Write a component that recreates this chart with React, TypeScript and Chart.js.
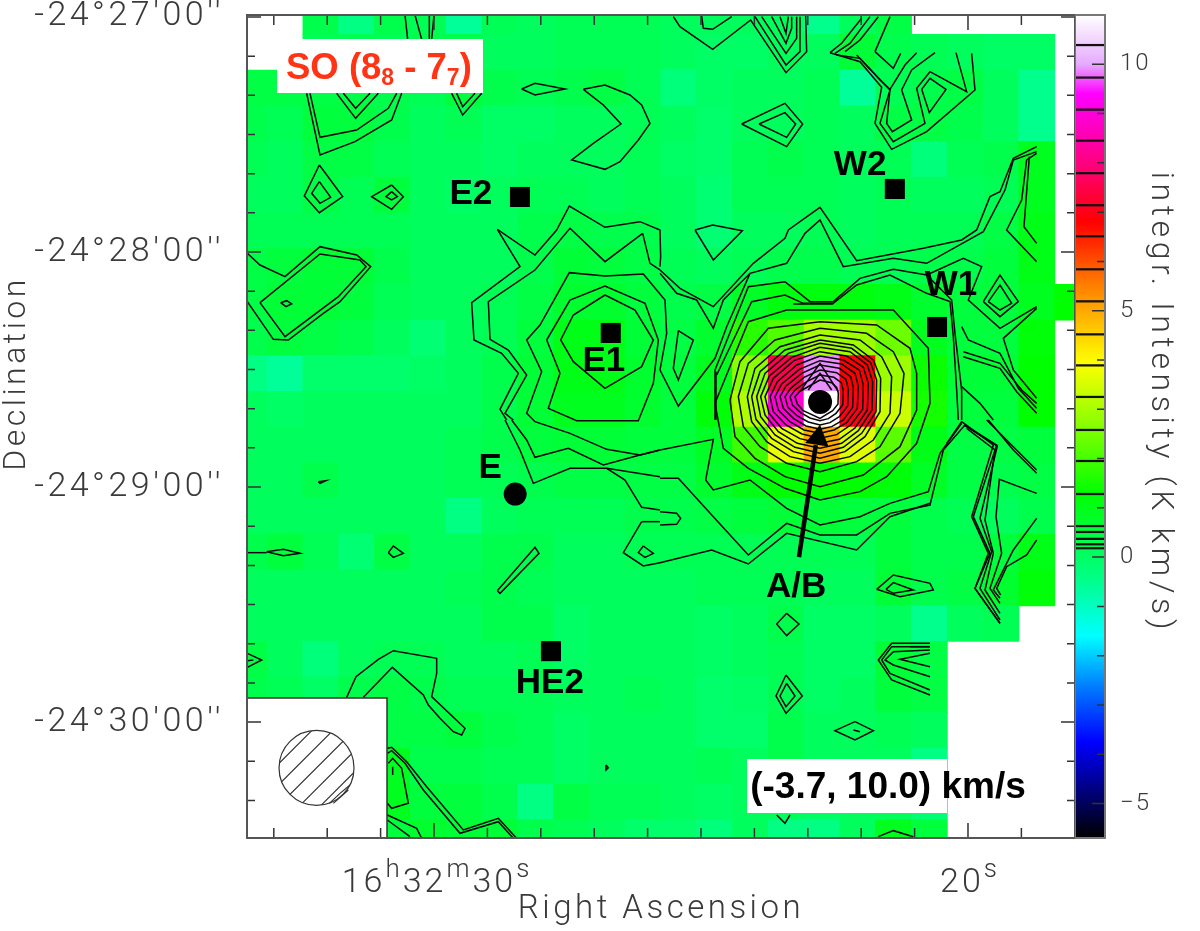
import React, { useEffect, useRef } from "react";
import { Chart, registerables } from "chart.js";

Chart.register(...registerables);

const N = null;

// Integrated intensity per map cell (K km/s), row by row from the north, column by column from the east side of the sky (left of the map).
const intensityRows: (number | null)[][] = [
  [N, N, 0.3, -0.4, 0.3, 0.2, -0.6, 0.2, 0.1, 0.2, 0.2, 0.2, 0.1, 0.1, 0.1, 0.1, -0.5, 0.1, 0.4, N, N, N, N, N],
  [N, N, 0.2, 0.2, 0.2, 0.3, 0.3, 0.1, 0.1, 0.2, 0.2, 0.2, 0.1, 0.0, 0.0, 0.1, 0.1, 0.6, 0.3, 0.2, 0.1, 0.0, 0.0, N],
  [0.4, 0.4, 0.4, 0.4, 0.3, 0.2, 0.5, 0.3, 0.2, 0.3, 0.4, 0.2, -0.3, 0.0, 0.1, 0.1, 0.2, -0.6, 0.2, 0.3, 0.4, 0.1, -0.5, N],
  [0.3, 0.2, 0.5, 0.5, 0.3, 0.1, 0.2, 0.0, 0.0, 0.1, 0.1, 0.2, 0.1, -0.1, 0.1, 0.1, 0.2, 0.1, 0.4, 0.4, 0.3, 0.1, -0.5, N],
  [0.2, 0.1, 0.4, 0.4, 0.2, 0.1, 0.1, 0.0, 0.1, 0.1, 0.1, 0.2, 0.0, -0.1, 0.2, 0.3, 0.2, 0.1, 0.2, -0.3, 0.2, 0.3, 0.9, N],
  [0.1, 0.1, 0.4, 0.2, 0.5, 0.1, 0.0, 0.1, 0.2, 0.2, 0.1, 0.2, 0.1, -0.2, 0.2, 0.2, 0.2, 0.1, 0.2, 0.1, 0.1, 0.2, 0.9, N],
  [0.2, 0.2, 0.2, 0.2, 0.2, 0.1, 0.1, 0.1, 0.3, 0.4, 0.3, 0.3, 0.1, -0.2, 0.1, 0.1, 0.2, 0.1, 0.2, 0.2, 0.2, 0.4, 1.0, N],
  [0.4, 0.5, 0.6, 0.6, 0.3, 0.1, 0.1, 0.1, 0.3, 0.6, 0.5, 0.4, 0.2, 0.1, 0.2, 0.3, 0.3, 0.2, 0.2, 0.3, 0.3, 0.5, 1.0, N],
  [0.4, 0.6, 0.6, 0.5, 0.2, 0.1, 0.1, 0.2, 0.4, 0.7, 0.7, 0.5, 0.3, 0.4, 0.8, 1.1, 1.1, 1.1, 1.0, 0.7, 0.5, 0.5, 0.9, 1.3],
  [0.3, 0.5, 0.4, 0.3, 0.1, -0.2, 0.1, 0.2, 0.5, 1.0, 1.0, 0.6, 0.4, 0.7, 1.7, 2.1, 3.0, 2.9, 2.4, 0.9, 0.5, 0.5, 1.2, N],
  [-0.4, -0.6, -0.1, -0.1, -0.1, 0.0, 0.1, 0.3, 0.6, 1.0, 1.0, 0.7, 0.5, 0.9, 2.7, 7.5, 9.9, 6.8, 2.9, 1.4, 0.6, 0.6, 1.3, N],
  [0.1, 0.0, 0.1, 0.1, 0.1, 0.1, 0.1, 0.3, 0.6, 0.9, 0.9, 0.7, 0.5, 1.2, 3.1, 8.9, 11, 7.0, 3.4, 1.5, 0.5, 0.5, 1.3, N],
  [0.1, 0.1, 0.1, 0.1, 0.1, 0.1, 0.2, 0.3, 0.5, 0.6, 0.6, 0.5, 0.5, 0.8, 1.9, 3.7, 5.0, 3.6, 2.2, 1.0, 0.4, 0.4, 0.5, N],
  [0.1, 0.1, 0.3, 0.1, 0.1, 0.1, 0.2, 0.2, 0.3, 0.4, 0.4, 0.4, 0.4, 0.7, 1.0, 1.3, 1.3, 1.3, 1.2, 0.8, 0.4, 0.3, 0.4, N],
  [0.1, 0.1, 0.1, 0.1, 0.1, 0.1, -0.4, 0.1, 0.2, 0.2, 0.2, 0.3, 0.3, 0.4, 0.5, 0.6, 0.6, 0.5, 0.5, 0.3, 0.2, 0.1, 0.3, N],
  [0.3, 0.5, 0.2, -0.2, 0.4, 0.1, 0.1, 0.3, 0.3, 0.1, 0.1, 0.2, 0.2, 0.2, 0.2, 0.2, 0.2, 0.2, 0.5, 0.3, 0.3, 0.5, 1.0, N],
  [0.1, 0.1, 0.1, 0.1, 0.1, 0.1, 0.2, 0.3, 0.2, 0.1, 0.1, 0.1, 0.1, 0.2, 0.2, 0.2, 0.1, 0.1, 0.6, 0.3, 0.4, 0.7, 1.2, N],
  [0.1, 0.1, 0.1, 0.1, 0.1, 0.1, 0.1, 0.3, 0.3, 0.0, 0.1, 0.1, 0.1, 0.0, 0.1, 0.3, 0.0, 0.0, 0.1, -0.5, 0.1, 0.2, N, N],
  [0.4, 0.1, -0.3, 0.1, 0.2, 0.2, 0.1, 0.1, 0.2, 0.0, 0.1, 0.1, 0.1, 0.0, 0.1, 0.2, 0.0, 0.0, 0.6, 0.4, N, N, N, N],
  [0.3, 0.2, 0.0, 0.3, 0.4, 0.3, 0.2, 0.2, 0.2, 0.1, 0.1, 0.2, 0.1, -0.1, 0.0, 0.2, 0.0, 0.1, 0.5, 0.4, N, N, N, N],
  [0.2, 0.2, 0.3, 0.3, 0.4, 0.4, 0.5, 0.3, 0.2, 0.0, 0.1, 0.1, 0.1, -0.1, -0.1, 0.3, 0.1, 0.1, 0.2, 0.1, N, N, N, N],
  [0.3, 0.3, 0.3, 0.3, 0.9, 0.3, 0.3, 0.2, 0.2, 0.0, 0.1, 0.1, 0.1, 0.2, 0.1, 0.3, 0.1, 0.1, 0.1, -0.4, N, N, N, N],
  [0.3, 0.3, 0.3, 0.4, 0.9, 0.5, 0.5, 0.3, -0.4, 0.4, 0.2, 0.2, 0.1, 0.0, 0.1, 0.1, 0.0, 0.1, 0.1, -0.2, N, N, N, N],
  [0.3, 0.3, 0.3, 0.4, 0.5, 0.7, 0.6, 0.6, 0.3, 0.2, 0.1, -0.1, -0.1, -0.3, 0.1, -0.4, -0.4, 0.1, 0.9, 0.5, N, N, N, N],
];

// Map grid in sky coordinates: RA seconds past 16h32m, Dec arcsec relative to -24deg27'00"
const firstCellRA = 33.46;
const cellStepRA = 0.6704;
const firstCellDec = 0.09;
const cellStepDec = 9.114;

const raMin = 17.996;
const raMax = 33.502;
const decMin = -209.6;
const decMax = 0.51;

const raMinorTicks = [33, 32, 31, 30, 29, 28, 27, 26, 25, 24, 23, 22, 21, 20, 19];
const raMajorTicks = [30, 20];
const decMinorTicks = [0, -10, -20, -30, -40, -50, -60, -70, -80, -90, -100, -110, -120, -130, -140, -150, -160, -170, -180, -190, -200];
const decMajorTicks = [0, -60, -120, -180];
const decTickLabels = ["-24\u00b027'00''", "-24\u00b028'00''", "-24\u00b029'00''", "-24\u00b030'00''"];

const cbarMin = -5.7;
const cbarMax = 11;
const cbarLabelled = [10, 5, 0, -5];
const cbarLabels = ["10", "5", "0", "\u22125"];
const cbarMinor = [9, 8, 7, 6, 4, 3, 2, 1, -1, -2, -3, -4];
const contourLevels = [10.39, 9.73, 9.08, 8.45, 7.79, 7.14, 6.51, 5.84, 5.19, 4.52, 3.89, 3.25, 2.58, 1.95, 1.28, 0.63, 0.51, 0.37, 0.26, 0.18];

const colorStops: [number, number, number, number][] = [
  [-5.7, 0, 0, 0],
  [-3.75, 0, 0, 255],
  [-2.6, 0, 128, 255],
  [-1.6, 0, 255, 255],
  [-0.37, 0, 255, 128],
  [1.3, 0, 255, 0],
  [2.6, 128, 255, 0],
  [3.95, 255, 255, 0],
  [5.5, 255, 128, 0],
  [6.8, 255, 0, 0],
  [8, 255, 0, 128],
  [9.4, 255, 0, 255],
  [10, 230, 170, 255],
  [11, 255, 255, 255],
];

// Sources: RA seconds, Dec arcsec
const squareSources = [
  { x: 28.39, y: -45.95 },
  { x: 21.37, y: -43.9 },
  { x: 26.69, y: -80.67 },
  { x: 20.58, y: -79.14 },
  { x: 27.81, y: -161.9 },
];
const circleSources = [
  { x: 28.48, y: -121.8, r: 11.5 },
  { x: 22.77, y: -98.3, r: 12 },
];
const sourceNames = [
  { t: "E2", x: 29.31, y: -45.4 },
  { t: "W2", x: 22.02, y: -37.8 },
  { t: "W1", x: 20.32, y: -68.4 },
  { t: "E1", x: 26.82, y: -87.8 },
  { t: "E", x: 28.95, y: -115.1 },
  { t: "HE2", x: 27.83, y: -170 },
  { t: "A/B", x: 23.22, y: -145.5 },
];
const arrowShaft = [
  { x: 23.165, y: -137.9 },
  { x: 22.85, y: -109.3 },
];
const arrowHead = [{ x: 22.81, y: -107.5 }];

const beamCentre = { x: 32.2, y: -191.7 };
const beamRadiusArcsec = 9.57;

// Contours traced on four tracing sheets of the map (each sheet: flat x,y lists in sheet units)
const contoursNW: number[][] = [
  [495, 45, 503, 118], [525, 45, 545, 118], [568, 45, 568, 118], [582, 45, 575, 118],
  [200, 280, 240, 465, 345, 425, 455, 360, 485, 280],
  [210, 280, 240, 412, 350, 390, 445, 325, 470, 280],
  [290, 280, 347, 355, 415, 280], [310, 280, 347, 325, 390, 280],
  [635, 280, 668, 345, 725, 280], [650, 280, 668, 320, 705, 280],
  [845, 267, 885, 250, 975, 267, 885, 285, 845, 267],
  [1030, 268, 1095, 255, 1170, 285, 1205, 315, 1230, 370, 1195, 420, 1140, 485, 1095, 508, 995, 480, 1060, 430, 1143, 372, 1090, 315, 1030, 268],
  [238, 495, 308, 590, 238, 638, 193, 588, 238, 495], [238, 545, 272, 592, 240, 610, 215, 580, 238, 545],
  [455, 555, 490, 590, 455, 628, 395, 590, 455, 555], [455, 575, 472, 590, 455, 600, 438, 590, 455, 575],
  [22, 760, 60, 795, 135, 830, 240, 740, 350, 765, 392, 800, 300, 905, 250, 940, 145, 1020, 100, 1018, 22, 905],
  [60, 908, 240, 762, 360, 780, 378, 800, 295, 890, 135, 1010, 60, 908],
  [122, 908, 140, 902, 155, 912, 138, 920, 122, 908],
  [772, 688, 885, 765, 950, 690, 988, 618, 1095, 682, 1200, 665, 1260, 690, 1262, 770, 1260, 800],
  [772, 688, 840, 800, 695, 908, 702, 1020, 785, 1060, 835, 1120, 780, 1228, 800, 1260],
  [1208, 700, 1095, 785, 990, 685, 885, 810, 745, 905, 750, 1018, 805, 1050, 860, 1125, 795, 1240, 820, 1260],
  [1208, 700, 1230, 790, 1260, 810],
  [1260, 1110, 1280, 1000, 1275, 900, 1210, 822, 1095, 828, 988, 818, 900, 975, 860, 1020, 905, 1115, 860, 1240, 885, 1265, 990, 1300, 1100, 1348, 1200, 1365, 1260, 1350],
  [920, 1020, 990, 900, 1095, 858, 1215, 910, 1255, 1020, 1240, 1150, 1195, 1262, 1010, 1262, 925, 1225, 960, 1120, 920, 1020],
  [1095, 885, 1185, 930, 1240, 1020, 1205, 1100, 1095, 1165, 1000, 1085, 962, 1020, 1000, 945, 1095, 885],
];

const contoursNE: number[][] = [
  [40, 50, 60, 80, 158, 148, 272, 60, 378, 218, 440, 155, 437, 48],
  [125, 48, 130, 85, 158, 88, 215, 50],
  [285, 50, 378, 195, 420, 155, 420, 50], [305, 50, 378, 160, 410, 115, 410, 50],
  [335, 50, 378, 130, 395, 85, 395, 50], [360, 50, 378, 100, 385, 50],
  [245, 372, 375, 310, 428, 372, 380, 440, 245, 372], [297, 372, 375, 338, 407, 372, 380, 412, 297, 372],
  [105, 690, 158, 675, 247, 692, 160, 780, 105, 690],
  [510, 158, 545, 130, 605, 55], [525, 160, 570, 130, 630, 50], [555, 155, 600, 120, 655, 50],
  [510, 158, 600, 185, 665, 262, 645, 370, 695, 448, 800, 395, 945, 270, 935, 160],
  [530, 165, 600, 175, 690, 270, 660, 370, 700, 425, 795, 370, 770, 265, 810, 215, 920, 275, 888, 158],
  [590, 165, 660, 240, 690, 268, 680, 370, 697, 395, 755, 360, 725, 270, 755, 210, 825, 158],
  [690, 268, 735, 195, 770, 158],
  [645, 155, 700, 205, 722, 160], [645, 155, 690, 50],
  [785, 268, 810, 235, 858, 268, 808, 338, 785, 268],
  [1130, 440, 1060, 475, 1020, 575, 990, 590, 950, 690, 905, 720, 790, 745, 590, 782, 480, 622, 385, 690, 375, 715, 280, 790, 160, 920, 60, 865, 0, 810],
  [1130, 455, 1060, 480, 1035, 570, 970, 695, 800, 790, 700, 775, 550, 800, 480, 660, 435, 700, 380, 790, 270, 820, 190, 900, 160, 985, 110, 900, 50, 880, 0, 820],
  [1130, 460, 1100, 480, 1085, 600, 1040, 690, 1130, 785], [1108, 470, 1092, 680, 1130, 730],
  [800, 825, 910, 775, 965, 800, 925, 900, 1020, 985, 1130, 920],
  [165, 1110, 265, 860, 375, 845, 450, 905, 520, 905, 600, 835, 700, 808, 800, 825, 875, 900, 885, 1000, 905, 1170, 905, 1260],
  [170, 1125, 275, 905, 375, 885, 430, 910, 520, 910, 590, 855, 690, 825, 800, 880, 870, 905, 880, 1010, 890, 1170, 895, 1260],
  [165, 1110, 165, 1260], [168, 1115, 168, 1260],
  [400, 912, 520, 912],
  [55, 992, 100, 1020, 55, 1140, 40, 1105, 55, 992],
  [0, 1110, 55, 1218, 165, 1075, 200, 980, 270, 820],
  [970, 905, 1020, 825, 1075, 905, 1020, 950, 970, 905], [985, 905, 1020, 855, 1055, 910, 1020, 930, 985, 905],
  [905, 980, 925, 1020, 1020, 1060, 1075, 1165, 1130, 1225],
  [910, 1055, 1020, 1090, 1085, 1170, 1130, 1210], [910, 1070, 1020, 1105, 1070, 1175, 1130, 1240],
  [1130, 925, 1030, 1015, 1060, 1110, 1130, 1195],
  [905, 1160, 960, 1210, 1000, 1260],
  // concentric contours round A/B
  [480, 930, 700, 930, 805, 1045, 810, 1210, 770, 1330, 680, 1430, 600, 1475, 480, 1500, 375, 1465, 265, 1405, 190, 1345, 165, 1210, 265, 965, 380, 930, 480, 930],
  [480, 965, 650, 975, 750, 1045, 770, 1120, 770, 1230, 720, 1340, 610, 1425, 480, 1460, 375, 1430, 285, 1375, 225, 1310, 210, 1200, 240, 1085, 325, 985, 480, 965],
  [480, 985, 620, 1000, 700, 1055, 732, 1120, 720, 1240, 660, 1340, 590, 1385, 480, 1415, 380, 1390, 300, 1340, 250, 1280, 235, 1190, 265, 1090, 345, 1020, 480, 985],
  [480, 1005, 600, 1020, 665, 1070, 695, 1130, 690, 1240, 640, 1320, 570, 1370, 480, 1390, 390, 1370, 320, 1325, 275, 1265, 262, 1190, 285, 1105, 360, 1040, 480, 1005],
  [480, 1020, 580, 1035, 640, 1080, 662, 1135, 660, 1235, 615, 1310, 555, 1355, 480, 1375, 400, 1355, 335, 1315, 288, 1258, 275, 1190, 300, 1115, 375, 1050, 480, 1020],
  [480, 1030, 575, 1045, 632, 1088, 650, 1140, 648, 1235, 605, 1300, 550, 1342, 480, 1360, 405, 1342, 345, 1305, 302, 1250, 290, 1190, 315, 1120, 385, 1060, 480, 1030],
  [480, 1042, 570, 1055, 622, 1095, 638, 1145, 636, 1230, 595, 1292, 545, 1330, 480, 1345, 412, 1330, 355, 1295, 315, 1245, 302, 1190, 328, 1128, 395, 1072, 480, 1042],
  [480, 1055, 560, 1068, 610, 1102, 625, 1150, 622, 1230, 585, 1284, 538, 1318, 480, 1330, 420, 1316, 365, 1285, 327, 1240, 315, 1190, 340, 1135, 402, 1082, 480, 1055],
  [480, 1068, 550, 1080, 598, 1110, 610, 1155, 608, 1228, 572, 1275, 530, 1304, 480, 1315, 426, 1302, 378, 1275, 340, 1235, 330, 1190, 352, 1145, 410, 1095, 480, 1068],
  [480, 1082, 545, 1092, 585, 1120, 595, 1158, 592, 1225, 560, 1268, 522, 1290, 480, 1300, 432, 1290, 390, 1265, 355, 1230, 345, 1190, 365, 1152, 418, 1108, 480, 1082],
  [480, 1095, 538, 1105, 572, 1130, 580, 1162, 578, 1222, 550, 1260, 515, 1280, 480, 1288, 438, 1278, 400, 1255, 370, 1225, 360, 1190, 378, 1158, 425, 1120, 480, 1095],
  [480, 1110, 530, 1118, 558, 1138, 565, 1168, 563, 1218, 538, 1250, 510, 1268, 480, 1275, 445, 1266, 412, 1248, 384, 1222, 375, 1190, 392, 1165, 432, 1132, 480, 1110],
  [480, 1125, 522, 1132, 544, 1148, 550, 1172, 548, 1215, 528, 1240, 505, 1256, 480, 1262, 450, 1254, 422, 1238, 398, 1216, 390, 1190, 405, 1170, 440, 1145, 480, 1125],
  [480, 1140, 515, 1148, 530, 1162, 535, 1180, 534, 1212, 518, 1232, 480, 1255, 430, 1232, 412, 1212, 405, 1190, 418, 1175, 448, 1158, 480, 1140],
  [445, 1170, 480, 1120, 515, 1170], [420, 1175, 480, 1090, 535, 1175],
];

const contoursSW: number[][] = [
  [235, 185, 258, 182, 240, 190, 235, 185],
  [22, 398, 80, 398], [80, 395, 130, 388, 180, 400, 130, 407, 80, 395],
  [445, 398, 460, 378, 490, 400, 460, 412, 445, 398],
  [772, 512, 885, 382, 897, 400, 780, 520, 772, 512],
  [22, 700, 65, 720, 22, 742], [22, 722, 40, 720],
  [320, 832, 348, 770, 415, 718, 460, 692, 590, 715, 590, 760, 575, 830, 675, 925, 665, 945, 640, 935, 600, 895, 565, 855, 550, 825, 457, 742, 370, 832],
  [442, 985, 455, 982, 500, 1025, 560, 1100, 670, 1230, 775, 1195, 830, 1255],
  [442, 1000, 455, 992, 495, 1030, 550, 1110, 660, 1240, 775, 1205, 820, 1255],
  [445, 1030, 458, 1015, 485, 1045, 505, 1150, 455, 1165, 442, 1150],
  [458, 1040, 458, 1065],
  [442, 1185, 530, 1225, 545, 1255], [442, 1200, 510, 1250],
  [815, 0, 860, 60, 885, 112, 985, 85, 1090, 135, 1200, 105, 1260, 90],
  [795, 0, 840, 90, 880, 190, 990, 145, 1100, 145, 1155, 180, 1205, 262, 1260, 270],
  [1260, 170, 1100, 145],
  [1205, 305, 1260, 305], [1205, 305, 1150, 398, 1210, 438, 1260, 428],
  [1210, 378, 1240, 400, 1215, 412, 1195, 398, 1210, 378],
  [1098, 1035, 1105, 1043, 1098, 1050, 1098, 1035],
];

const contoursSE: number[][] = [
  [0, 90, 160, 58, 137, 180, 160, 210, 270, 180, 380, 265, 480, 315, 600, 290, 690, 250, 805, 215, 840, 100, 905, 10],
  [0, 175, 55, 175, 160, 290, 265, 405, 380, 310, 480, 345, 590, 345, 690, 280, 810, 255, 850, 90, 915, 15, 1010, 75, 940, 290, 990, 400, 945, 505, 1020, 610],
  [0, 428, 155, 390, 265, 432, 380, 340, 590, 390, 690, 290, 810, 250],
  [860, 70, 905, 5, 1000, 75, 935, 290, 985, 400, 945, 505, 1020, 610],
  [912, 15, 1012, 78, 960, 295, 995, 395, 960, 505, 1020, 600],
  [920, 25, 1005, 90, 975, 300, 1000, 400, 975, 510, 1020, 580],
  [1130, 160, 1060, 90, 985, 0], [1130, 150, 1060, 80, 980, 0],
  [1130, 220, 1018, 178, 1008, 290, 1025, 400, 990, 505, 1020, 550],
  [1130, 295, 1060, 390, 1000, 510, 1020, 535],
  [1130, 360, 1100, 405, 1040, 440, 1010, 505, 1022, 525],
  [650, 508, 700, 465, 810, 490, 820, 510, 720, 530, 650, 508],
  [678, 508, 700, 488, 760, 510, 700, 520, 678, 508],
  [380, 580, 417, 612, 380, 647, 350, 612, 380, 580],
  [378, 765, 427, 828, 378, 880, 348, 828, 378, 765],
  [380, 790, 405, 828, 378, 860, 360, 828, 380, 790],
  [585, 905, 640, 932, 585, 960, 525, 932, 585, 905],
  [580, 930, 600, 935],
  [810, 825, 695, 780, 655, 720, 695, 670, 810, 670],
  [810, 810, 690, 760, 665, 720, 695, 680, 810, 680],
  [810, 770, 700, 735, 675, 720, 700, 695, 810, 690],
  [810, 740, 720, 718, 810, 700],
  [750, 680, 810, 680],
  [350, 1185, 375, 1210, 390, 1185],
  [655, 1250, 700, 1232, 760, 1250],
  [0, 275, 50, 280, 62, 295, 50, 313, 0, 315],
];

const beamTraces: number[][] = [
  [268, 1150, 300, 1120, 330, 1095],
  [280, 1150, 325, 1110],
];

// Tracing-sheet to sky conversion
const sheetToSky = (ox: number, oy: number, zx: number, zy: number) => ({
  x: 20 + (968 - (ox + zx / 3)) / 53.4,
  y: -(oy + zy / 3 - 17) / 3.917,
});

const traceToPoints = (flat: number[], ox: number, oy: number) => {
  const pts: { x: number; y: number }[] = [];
  for (let i = 0; i + 1 < flat.length; i += 2) pts.push(sheetToSky(ox, oy, flat[i], flat[i + 1]));
  return pts;
};

const valueToRgb = (v: number) => {
  const s = colorStops;
  if (v <= s[0][0]) return `rgb(${s[0][1]},${s[0][2]},${s[0][3]})`;
  for (let i = 1; i < s.length; i++) {
    if (v <= s[i][0]) {
      const f = (v - s[i - 1][0]) / (s[i][0] - s[i - 1][0]);
      const c = [1, 2, 3].map((k) => Math.round(s[i - 1][k] + f * (s[i][k] - s[i - 1][k])));
      return `rgb(${c[0]},${c[1]},${c[2]})`;
    }
  }
  return "rgb(255,255,255)";
};

const LIGHT = "Roboto";
const BOLD = "'Liberation Sans'";
const INK = "#3a3a3a";

const mapFurniture = {
  id: "mapFurniture",
  beforeDraw(chart: any) {
    chart.ctx.letterSpacing = "3.5px";
  },
  afterDatasetsDraw(chart: any) {
    const { ctx, chartArea: a, scales } = chart;
    const X = (v: number) => scales.x.getPixelForValue(v);
    const Y = (v: number) => scales.y.getPixelForValue(v);
    ctx.save();
    ctx.letterSpacing = "0px";

    // White label boxes
    ctx.fillStyle = "#fff";
    ctx.fillRect(277, 39, 206, 54);
    ctx.fillRect(747, 759, 200, 54);
    ctx.fillRect(a.left, 698, 140, a.bottom - 698);
    ctx.strokeStyle = "#333";
    ctx.lineWidth = 1.5;
    ctx.beginPath();
    ctx.moveTo(a.left, 698);
    ctx.lineTo(387, 698);
    ctx.lineTo(387, a.bottom);
    ctx.stroke();

    // Beam
    const bx = X(beamCentre.x);
    const by = Y(beamCentre.y);
    const br = Math.abs(Y(beamRadiusArcsec) - Y(0));
    ctx.lineWidth = 1.2;
    ctx.strokeStyle = "#333";
    ctx.beginPath();
    ctx.arc(bx, by, br, 0, Math.PI * 2);
    ctx.stroke();
    ctx.save();
    ctx.beginPath();
    ctx.arc(bx, by, br, 0, Math.PI * 2);
    ctx.clip();
    ctx.beginPath();
    for (let d = -3; d <= 3; d++) {
      const o = d * 21;
      ctx.moveTo(bx - br + o, by + br);
      ctx.lineTo(bx + br + o, by - br);
    }
    ctx.stroke();
    ctx.restore();
    beamTraces.forEach((t) => {
      const p = traceToPoints(t, 240, 420);
      ctx.beginPath();
      p.forEach((q, i) => (i ? ctx.lineTo(X(q.x), Y(q.y)) : ctx.moveTo(X(q.x), Y(q.y))));
      ctx.stroke();
    });

    // Frame ticks
    ctx.strokeStyle = "#333";
    ctx.lineWidth = 1.5;
    ctx.beginPath();
    raMinorTicks.forEach((t) => {
      const px = X(t);
      const len = raMajorTicks.includes(t) ? 15 : 10;
      ctx.moveTo(px, a.bottom);
      ctx.lineTo(px, a.bottom - len);
      ctx.moveTo(px, a.top);
      ctx.lineTo(px, a.top + len);
    });
    decMinorTicks.forEach((t) => {
      const py = Y(t);
      const len = decMajorTicks.includes(t) ? 14 : 8;
      ctx.moveTo(a.left, py);
      ctx.lineTo(a.left + len, py);
      ctx.moveTo(a.right, py);
      ctx.lineTo(a.right - len, py);
    });
    ctx.stroke();
    ctx.strokeStyle = "#555";
    ctx.lineWidth = 2;
    ctx.strokeRect(a.left, a.top, a.right - a.left, a.bottom - a.top);

    // Source names
    ctx.fillStyle = "#000";
    ctx.textAlign = "center";
    ctx.textBaseline = "middle";
    ctx.font = `bold 35px ${BOLD}`;
    sourceNames.forEach((s) => ctx.fillText(s.t, X(s.x), Y(s.y)));

    // Velocity range
    ctx.font = `bold 37px ${BOLD}`;
    ctx.fillText("(-3.7, 10.0) km/s", 888, 788);

    // Line name with subscripts
    const runs: [string, boolean][] = [["SO (8", false], ["8", true], [" - 7", false], ["7", true], [")", false]];
    ctx.fillStyle = "#ff3414";
    ctx.textAlign = "left";
    ctx.textBaseline = "alphabetic";
    let cx = 286;
    runs.forEach(([t, sub]) => {
      ctx.font = `bold ${sub ? 23 : 36.5}px ${BOLD}`;
      ctx.fillText(t, cx, sub ? 85 : 79);
      cx += ctx.measureText(t).width;
    });

    // Declination title, centred on its own position along the frame
    ctx.fillStyle = INK;
    ctx.letterSpacing = "3.5px";
    ctx.save();
    ctx.translate(17, Y(-91));
    ctx.rotate(-Math.PI / 2);
    ctx.textAlign = "center";
    ctx.textBaseline = "middle";
    ctx.font = `300 32px ${LIGHT}`;
    ctx.fillText("Declination", 0, 0);
    ctx.restore();

    // RA labels with raised unit letters
    ctx.letterSpacing = "3px";
    const drawRA = (parts: [string, boolean][], centre: number) => {
      let w = 0;
      parts.forEach(([t, sup]) => {
        ctx.font = `300 ${sup ? 26 : 34}px ${LIGHT}`;
        w += ctx.measureText(t).width;
      });
      let px = centre - w / 2;
      parts.forEach(([t, sup]) => {
        ctx.font = `300 ${sup ? 26 : 34}px ${LIGHT}`;
        ctx.fillText(t, px, sup ? 877 : 892);
        px += ctx.measureText(t).width;
      });
    };
    drawRA([["16", false], ["h", true], ["32", false], ["m", true], ["30", false], ["s", true]], X(raMajorTicks[0]) + 3);
    drawRA([["20", false], ["s", true]], X(raMajorTicks[1]) + 2);
    ctx.restore();
  },
};

const cbarFurniture = {
  id: "cbarFurniture",
  beforeDraw(chart: any) {
    chart.ctx.letterSpacing = "2px";
  },
  afterDatasetsDraw(chart: any) {
    const { ctx, chartArea: a, scales } = chart;
    const Y = (v: number) => scales.y.getPixelForValue(v);
    ctx.save();
    ctx.strokeStyle = "#333";
    ctx.lineWidth = 1.5;
    ctx.beginPath();
    cbarLabelled.forEach((v) => {
      ctx.moveTo(a.right, Y(v));
      ctx.lineTo(a.right - 13, Y(v));
    });
    cbarMinor.forEach((v) => {
      ctx.moveTo(a.right, Y(v));
      ctx.lineTo(a.right - 8, Y(v));
    });
    ctx.stroke();
    ctx.strokeStyle = "#777";
    ctx.lineWidth = 2;
    ctx.strokeRect(a.left, a.top, a.right - a.left, a.bottom - a.top);

    ctx.fillStyle = INK;
    ctx.letterSpacing = "4.6px";
    ctx.translate(a.right + 55, Y(3.13));
    ctx.rotate(Math.PI / 2);
    ctx.textAlign = "center";
    ctx.textBaseline = "middle";
    ctx.font = `300 32px ${LIGHT}`;
    ctx.fillText("integr. Intensity (K km/s)", 0, 0);
    ctx.restore();
  },
};

export default function App() {
  const mapRef = useRef<HTMLCanvasElement>(null);
  const barRef = useRef<HTMLCanvasElement>(null);

  useEffect(() => {
    const cells: { x: number; y: number }[] = [];
    const cellColors: string[] = [];
    intensityRows.forEach((row, r) =>
      row.forEach((v, c) => {
        if (v === null) return;
        cells.push({ x: firstCellRA - c * cellStepRA, y: firstCellDec - r * cellStepDec });
        cellColors.push(valueToRgb(v));
      })
    );

    const contourSets: [number[][], number, number][] = [
      [contoursNW, 240, 0],
      [contoursNE, 660, 0],
      [contoursSW, 240, 420],
      [contoursSE, 660, 420],
    ];
    const contourDatasets: any[] = [];
    contourSets.forEach(([lines, ox, oy]) =>
      lines.forEach((l) =>
        contourDatasets.push({
          data: traceToPoints(l, ox, oy),
          showLine: true,
          borderColor: "#050505",
          borderWidth: 1.5,
          pointRadius: 0,
          tension: 0,
          order: 5,
          clip: 0,
        })
      )
    );

    const map = new Chart(mapRef.current!, {
      type: "scatter",
      data: {
        datasets: [
          {
            label: "cells",
            data: cells,
            pointStyle: "rect",
            pointRadius: 25.9,
            pointBorderWidth: 0,
            pointBackgroundColor: cellColors,
            order: 10,
            clip: 0,
          } as any,
          ...contourDatasets,
          {
            label: "square sources",
            data: squareSources,
            pointStyle: "rect",
            pointRadius: 14.2,
            pointBorderWidth: 0,
            pointBackgroundColor: "#000",
            order: 2,
            clip: 0,
          } as any,
          {
            label: "arrow",
            data: arrowShaft,
            showLine: true,
            borderColor: "#000",
            borderWidth: 4.5,
            pointRadius: 0,
            order: 2,
            clip: 0,
          } as any,
          {
            label: "arrow head",
            data: arrowHead,
            pointStyle: "triangle",
            pointRadius: 13.5,
            rotation: 8.8,
            pointBorderWidth: 0,
            pointBackgroundColor: "#000",
            order: 2,
            clip: 0,
          } as any,
          {
            label: "circle sources",
            data: circleSources,
            pointStyle: "circle",
            pointRadius: circleSources.map((s) => s.r),
            pointBorderWidth: 0,
            pointBackgroundColor: "#000",
            order: 1,
            clip: 0,
          } as any,
        ],
      },
      options: {
        animation: false,
        responsive: false,
        events: [],
        layout: { autoPadding: false, padding: { left: 0, top: 15, right: 125, bottom: 0 } },
        plugins: { legend: { display: false }, tooltip: { enabled: false } },
        scales: {
          x: {
            type: "linear",
            reverse: true,
            min: raMin,
            max: raMax,
            grid: { display: false, drawTicks: false },
            border: { display: false },
            ticks: { display: false },
            title: {
              display: true,
              text: "Right Ascension",
              color: INK,
              font: { family: LIGHT, size: 33, weight: "300", lineHeight: 1 },
              padding: { top: 0, bottom: 5 },
            },
            afterFit(s: any) {
              s.height = 93;
              s.paddingLeft = 0;
              s.paddingRight = 0;
            },
          },
          y: {
            type: "linear",
            min: decMin,
            max: decMax,
            grid: { display: false, drawTicks: false },
            border: { display: false },
            afterBuildTicks(s: any) {
              s.ticks = decMajorTicks.map((value) => ({ value }));
            },
            ticks: {
              autoSkip: false,
              padding: 23,
              color: INK,
              font: { family: LIGHT, size: 34, weight: "300", lineHeight: 0.5 },
              callback: (v: any) => decTickLabels[decMajorTicks.indexOf(Number(v))] ?? "",
            },
            afterFit(s: any) {
              s.width = 247;
              s.paddingTop = 0;
              s.paddingBottom = 0;
            },
          },
        },
      } as any,
      plugins: [mapFurniture],
    });

    const colorBar = new Chart(barRef.current!, {
      type: "bar",
      data: {
        labels: ["scale"],
        datasets: [
          {
            label: "colour scale",
            data: [[cbarMin, cbarMax]],
            order: 2,
            borderWidth: 0,
            backgroundColor: (c: any) => {
              const { chartArea, scales, ctx } = c.chart;
              if (!chartArea) return "#000";
              const y0 = scales.y.getPixelForValue(cbarMin);
              const y1 = scales.y.getPixelForValue(cbarMax);
              const g = ctx.createLinearGradient(0, y0, 0, y1);
              colorStops.forEach((s) => g.addColorStop((s[0] - cbarMin) / (cbarMax - cbarMin), `rgb(${s[1]},${s[2]},${s[3]})`));
              return g;
            },
          } as any,
          ...contourLevels.map((l) => ({
            label: `level ${l}`,
            data: [[l - 0.016, l + 0.016]],
            order: 1,
            borderWidth: 0,
            backgroundColor: "#111",
          })),
        ],
      },
      options: {
        animation: false,
        responsive: false,
        events: [],
        layout: { autoPadding: false, padding: { left: 0, top: 15, right: 0, bottom: 93 } },
        datasets: { bar: { grouped: false, barPercentage: 1, categoryPercentage: 1 } },
        plugins: { legend: { display: false }, tooltip: { enabled: false } },
        scales: {
          x: { display: false },
          y: {
            position: "right",
            min: cbarMin,
            max: cbarMax,
            grid: { display: false, drawTicks: false },
            border: { display: false },
            afterBuildTicks(s: any) {
              s.ticks = cbarLabelled.map((value) => ({ value }));
            },
            ticks: {
              autoSkip: false,
              padding: 15,
              color: INK,
              font: { family: LIGHT, size: 24, weight: "300" },
              callback: (v: any) => cbarLabels[cbarLabelled.indexOf(Number(v))] ?? "",
            },
            afterFit(s: any) {
              s.width = 95;
              s.paddingTop = 0;
              s.paddingBottom = 0;
            },
          },
        },
      } as any,
      plugins: [cbarFurniture],
    });

    return () => {
      map.destroy();
      colorBar.destroy();
    };
  }, []);

  return (
    <div style={{ position: "absolute", left: 0, top: 0, width: 1200, height: 931, overflow: "hidden", background: "#fff" }}>
      <canvas ref={mapRef} width={1200} height={931} style={{ position: "absolute", left: 0, top: 0, display: "block", filter: "blur(0.5px)" }} />
      <canvas ref={barRef} width={125} height={931} style={{ position: "absolute", left: 1075, top: 0, display: "block", filter: "blur(0.5px)" }} />
    </div>
  );
}
